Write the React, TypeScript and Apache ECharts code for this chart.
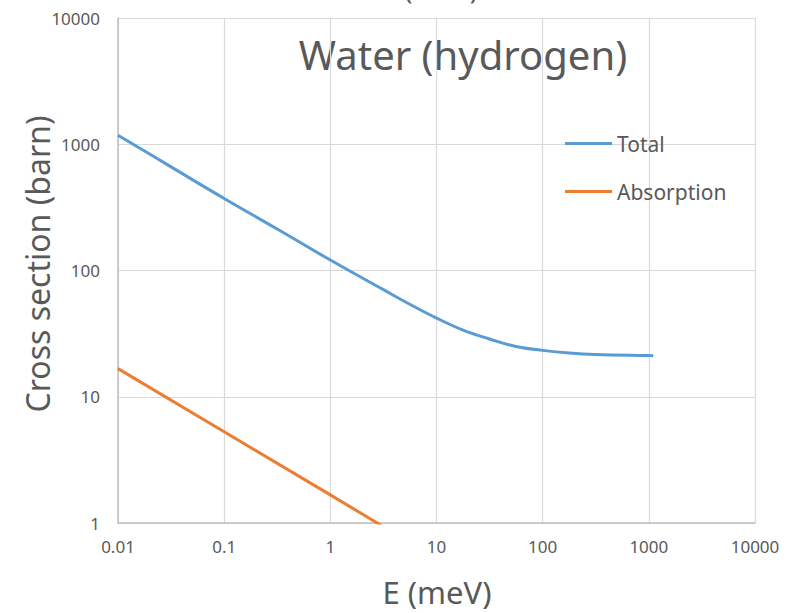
import React, { useEffect, useRef } from "react";
import * as echarts from "echarts";

// Neutron energy (meV)
const totalEnergy = [0.01, 0.0316, 0.1, 0.316, 1, 3.16, 5.6, 10, 17.8, 31.6, 56, 100, 178, 316, 1000, 1100];
// Total cross section of hydrogen in water (barn)
const totalXs = [1180, 662, 372, 213, 121, 70.5, 54, 42, 33.7, 28.7, 25.0, 23.3, 22.2, 21.6, 21.2, 21.15];

const absorptionEnergy = [0.01, 0.1, 1, 3];
// Absorption cross section (barn), 1/v behaviour
const absorptionXs = [16.7, 5.28, 1.67, 0.96];

const xTicks = ["0.01", "0.1", "1", "10", "100", "1000", "10000"];
const yTicks = ["1", "10", "100", "1000", "10000"];

const FONT = "'Noto Sans', 'Open Sans', sans-serif";
const GREY = "#595959";

function fmt(v: number, ticks: string[]): string {
  const hit = ticks.find((t) => Math.abs(Math.log10(parseFloat(t)) - Math.log10(v)) < 1e-6);
  return hit ?? "";
}

export default function App() {
  const ref = useRef<HTMLDivElement>(null);

  useEffect(() => {
    if (!ref.current) return;
    const chart = echarts.init(ref.current, undefined, { renderer: "svg" });
    chart.setOption({
      animation: false,
      backgroundColor: "#ffffff",
      textStyle: { fontFamily: FONT },
      grid: { left: 118, right: 45, top: 18, bottom: 90, containLabel: false },
      graphic: [
        {
          type: "text",
          x: 463,
          y: 34,
          style: {
            text: "Water (hydrogen)",
            fontSize: 40,
            fill: GREY,
            fontFamily: FONT,
            align: "center",
            verticalAlign: "top",
          },
        },
        {
          type: "text",
          x: 441,
          y: 2,
          style: {
            text: "(barn)",
            fontSize: 26,
            fill: GREY,
            fontFamily: FONT,
            align: "center",
            verticalAlign: "bottom",
          },
        },
        {
          type: "text",
          x: 437,
          y: 592,
          style: {
            text: "E (meV)",
            fontSize: 31,
            fill: GREY,
            fontFamily: FONT,
            align: "center",
            verticalAlign: "middle",
          },
        },
        {
          type: "text",
          x: 37,
          y: 264,
          rotation: Math.PI / 2,
          style: {
            text: "Cross section (barn)",
            fontSize: 32,
            fill: GREY,
            fontFamily: FONT,
            align: "center",
            verticalAlign: "middle",
          },
        },
      ],
      legend: {
        orient: "vertical",
        left: 565,
        top: 133,
        padding: 0,
        itemGap: 27,
        itemWidth: 47,
        itemHeight: 3,
        textStyle: { fontSize: 21, color: GREY, fontFamily: FONT },
        data: [
          { name: "Total", icon: "rect" },
          { name: "Absorption", icon: "rect" },
        ],
      },
      xAxis: {
        type: "log",
        logBase: 10,
        min: 0.01,
        max: 10000,
        axisLine: { show: true, lineStyle: { color: "#bfbfbf", width: 1.5 } },
        axisTick: { show: false },
        axisLabel: {
          color: GREY,
          fontSize: 17,
          margin: 15,
          fontFamily: FONT,
          formatter: (v: number) => fmt(v, xTicks),
        },
        splitLine: { show: true, lineStyle: { color: "#d9d9d9", width: 1.2 } },
        minorTick: { show: false },
      },
      yAxis: {
        type: "log",
        logBase: 10,
        min: 1,
        max: 10000,
        axisLine: { show: true, lineStyle: { color: "#bfbfbf", width: 1.5 } },
        axisTick: { show: false },
        axisLabel: {
          color: GREY,
          fontSize: 17,
          margin: 18,
          fontFamily: FONT,
          formatter: (v: number) => fmt(v, yTicks),
        },
        splitLine: { show: true, lineStyle: { color: "#d9d9d9", width: 1.2 } },
      },
      series: [
        {
          name: "Total",
          type: "line",
          smooth: 0.4,
          symbol: "none",
          color: "#5b9bd5",
          lineStyle: { width: 3, color: "#5b9bd5" },
          data: totalEnergy.map((e, i) => [e, totalXs[i]]),
        },
        {
          name: "Absorption",
          type: "line",
          symbol: "none",
          clip: true,
          color: "#ed7d31",
          lineStyle: { width: 3, color: "#ed7d31" },
          data: absorptionEnergy.map((e, i) => [e, absorptionXs[i]]),
        },
      ],
    });
    return () => chart.dispose();
  }, []);

  return (
    <div
      ref={ref}
      style={{ position: "fixed", left: 0, top: 0, width: 800, height: 613, background: "#fff" }}
    />
  );
}
